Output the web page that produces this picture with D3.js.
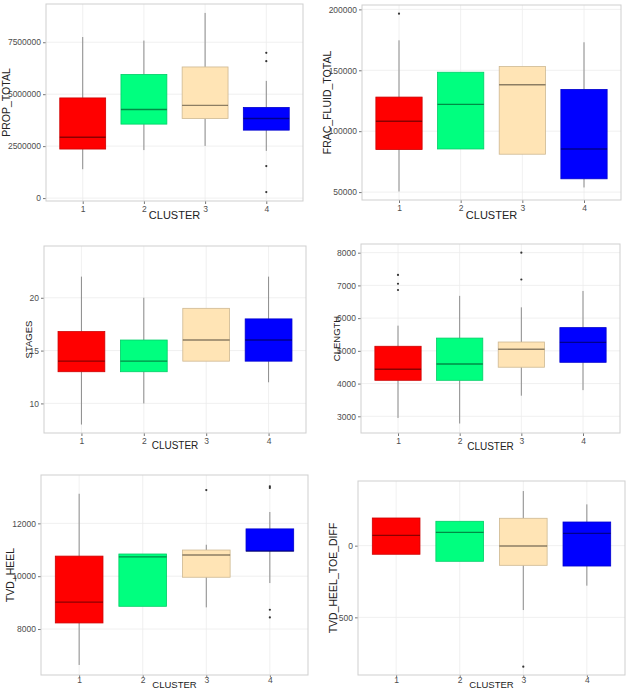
<!DOCTYPE html>
<html>
<head>
<meta charset="utf-8">
<script src="https://cdn.jsdelivr.net/npm/d3@7"></script>
<style>
  body { margin: 0; background: #fff; }
  svg { display: block; font-family: "Liberation Sans", Arial, sans-serif; }
</style>
</head>
<body>
<svg width="627" height="690"></svg>
<script>
// clusters and box colours
const clusters = ['1', '2', '3', '4'];
const fills = ['#ff0000', '#00ff7f', '#ffe4b5', '#0000ff'];

// each row: [lower whisker, q1, median, q3, upper whisker]
const propTotal = [[1390000, 2360000, 2930000, 4820000, 7750000], [2310000, 3560000, 4260000, 5950000, 7580000],
  [2510000, 3830000, 4460000, 6310000, 8910000], [2270000, 3270000, 3830000, 4360000, 5640000]];
const propOut = [[], [], [], [6990000, 6590000, 1540000, 290000]];
const propTicks = [0, 2500000, 5000000, 7500000];

const fracFluid = [[50500, 84900, 108100, 128000, 174600], [85400, 85400, 122000, 148400, 148400],
  [81100, 81100, 138100, 153100, 153100], [53800, 60900, 85400, 134300, 173000]];
const fracOut = [[196500], [], [], []];
const fracTicks = [50000, 100000, 150000, 200000];

const stages = [[8, 13, 14, 16.8, 22], [10, 13, 14, 16, 20], [14, 14, 16, 19, 19], [12, 14, 16, 18, 22]];
const stagesOut = [[], [], [], []];
const stagesTicks = [10, 15, 20];

const clength = [[2950, 4100, 4440, 5140, 5770], [2780, 4100, 4600, 5390, 6680],
  [3630, 4500, 5050, 5270, 6330], [3800, 4650, 5260, 5710, 6830]];
const clengthOut = [[7320, 7050, 6860], [], [8000, 7180], []];
const clengthTicks = [3000, 4000, 5000, 6000, 7000, 8000];

const tvdHeel = [[6640, 8230, 9020, 10760, 13120], [8860, 8860, 10730, 10840, 10840],
  [8820, 9960, 10800, 10990, 11190], [9740, 10950, 10950, 11790, 12430]];
const tvdHeelOut = [[], [], [13260], [13400, 13340, 8730, 8440]];
const tvdHeelTicks = [8000, 10000, 12000];

const tvdDiff = [[-60, -60, 72, 193, 193], [-109, -109, 93, 170, 170],
  [-449, -137, -2, 191, 381], [-279, -142, 86, 165, 288]];
const tvdDiffOut = [[], [], [-844], []];
const tvdDiffTicks = [-500, 0];

// panel frames (plot area in px) and label placement
const panels = [
  {name: 'PROP_TOTAL', stats: propTotal, out: propOut, ticks: propTicks, domain: [-140000, 9340000],
   l: 46, r: 303, t: 4, b: 201, ytx: 7.5, xty: 216, fs: 10.5, xfs: 11, tk: 3, tp: 2},
  {name: 'FRAC_FLUID_TOTAL', stats: fracFluid, out: fracOut, ticks: fracTicks, domain: [43500, 203600],
   l: 362, r: 621, t: 5, b: 200, ytx: 328, xty: 216, fs: 10.5, xfs: 11, tk: 3, tp: 2},
  {name: 'STAGES', stats: stages, out: stagesOut, ticks: stagesTicks, domain: [7.2, 24.9],
   l: 44, r: 306, t: 246, b: 433, ytx: 29, xty: 446.5, fs: 9.5, xfs: 10, tk: 3, tp: 2},
  {name: 'CLENGTH', stats: clength, out: clengthOut, ticks: clengthTicks, domain: [2490, 8265],
   l: 361, r: 620, t: 244, b: 433, ytx: 337.5, xty: 447.5, fs: 9.5, xfs: 10, tk: 3, tp: 2},
  {name: 'TVD_HEEL', stats: tvdHeel, out: tvdHeelOut, ticks: tvdHeelTicks, domain: [6260, 13830],
   l: 41, r: 308, t: 475, b: 675, ytx: 11, xty: 685.8, fs: 10.5, xfs: 9.5, tk: 2, tp: 0},
  {name: 'TVD_HEEL_TOE_DIFF', stats: tvdDiff, out: tvdDiffOut, ticks: tvdDiffTicks, domain: [-902, 451],
   l: 358, r: 625, t: 481, b: 675, ytx: 334, xty: 685.8, fs: 10.5, xfs: 9.5, tk: 2, tp: 0}
];

const svg = d3.select('svg');

panels.forEach(p => {
  const x = d3.scalePoint().domain(clusters).range([p.l, p.r]).padding(0.6);
  const y = d3.scaleLinear().domain(p.domain).range([p.b, p.t]);
  const bw = x.step() * 0.75;
  const g = svg.append('g');

  // grid
  g.selectAll('.gy').data(p.ticks).enter().append('line')
    .attr('x1', p.l).attr('x2', p.r)
    .attr('y1', d => y(d)).attr('y2', d => y(d))
    .attr('stroke', '#ececec').attr('stroke-width', 0.8);
  g.selectAll('.gx').data(clusters).enter().append('line')
    .attr('x1', d => x(d)).attr('x2', d => x(d))
    .attr('y1', p.t).attr('y2', p.b)
    .attr('stroke', '#ececec').attr('stroke-width', 0.8);

  // axes
  const yAxis = g.append('g').attr('transform', 'translate(' + p.l + ',0)')
    .call(d3.axisLeft(y).tickValues(p.ticks).tickFormat(d3.format('d')).tickSize(3).tickPadding(2));
  const xAxis = g.append('g').attr('transform', 'translate(0,' + p.b + ')')
    .call(d3.axisBottom(x).tickSize(p.tk).tickPadding(p.tp));
  [yAxis, xAxis].forEach(a => {
    a.select('.domain').remove();
    a.selectAll('line').attr('stroke', '#777');
    a.selectAll('text').attr('fill', '#4d4d4d').style('font-size', '8.5px');
  });

  // whiskers
  p.stats.forEach((s, i) => {
    const cx = x(clusters[i]);
    [[s[0], s[1]], [s[3], s[4]]].forEach(w => {
      if (w[0] === w[1]) return;
      g.append('line').attr('x1', cx).attr('x2', cx)
        .attr('y1', y(w[0])).attr('y2', y(w[1]))
        .attr('stroke', '#8c8c8c').attr('stroke-width', 1);
    });
  });

  // boxes
  g.selectAll('.box').data(p.stats).enter().append('rect')
    .attr('x', (d, i) => x(clusters[i]) - bw / 2)
    .attr('width', bw)
    .attr('y', d => y(d[3]))
    .attr('height', d => y(d[1]) - y(d[3]))
    .attr('fill', (d, i) => fills[i])
    .attr('stroke', (d, i) => d3.color(fills[i]).darker(0.6))
    .attr('stroke-width', 0.8);

  // medians
  g.selectAll('.med').data(p.stats).enter().append('line')
    .attr('x1', (d, i) => x(clusters[i]) - bw / 2)
    .attr('x2', (d, i) => x(clusters[i]) + bw / 2)
    .attr('y1', d => y(d[2])).attr('y2', d => y(d[2]))
    .attr('stroke', 'rgba(0,0,0,0.45)').attr('stroke-width', 1.4);

  // outliers
  p.out.forEach((o, i) => {
    g.selectAll(null).data(o).enter().append('circle')
      .attr('cx', x(clusters[i])).attr('cy', d => y(d))
      .attr('r', 1.1).attr('fill', '#333');
  });

  // panel border
  g.append('rect').attr('x', p.l).attr('y', p.t)
    .attr('width', p.r - p.l).attr('height', p.b - p.t)
    .attr('fill', 'none').attr('stroke', '#cfcfcf').attr('stroke-width', 1);

  // titles
  g.append('text').text('CLUSTER')
    .attr('x', (p.l + p.r) / 2).attr('y', p.xty)
    .attr('text-anchor', 'middle').attr('dominant-baseline', 'middle')
    .attr('fill', '#222').style('font-size', p.xfs + 'px');
  g.append('text').text(p.name)
    .attr('transform', 'translate(' + p.ytx + ',' + (p.t + p.b) / 2 + ') rotate(-90)')
    .attr('text-anchor', 'middle').attr('dominant-baseline', 'middle')
    .attr('fill', '#222').style('font-size', p.fs + 'px');
});
</script>
</body>
</html>
